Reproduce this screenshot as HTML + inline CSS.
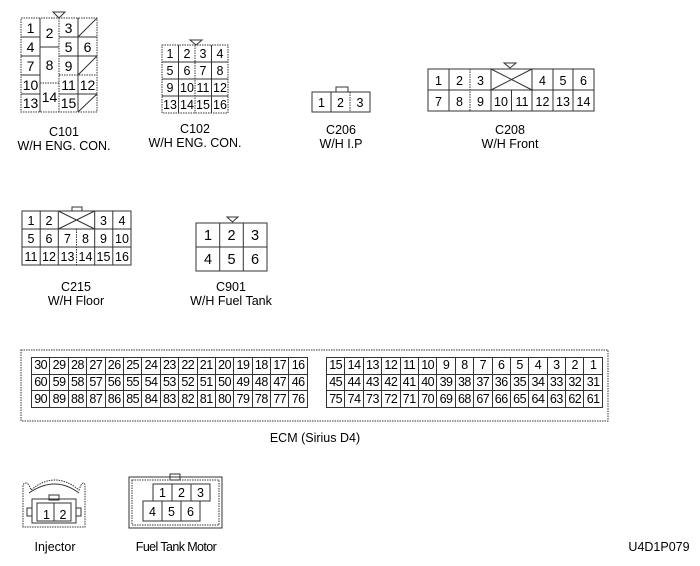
<!DOCTYPE html>
<html><head><meta charset="utf-8"><style>
body{margin:0;width:700px;height:566px;background:#fff;position:relative;overflow:hidden;font-family:"Liberation Sans",sans-serif;}
svg{position:absolute;left:0;top:0}
table.e{position:absolute;border-collapse:collapse;table-layout:fixed;font-size:12.5px;}
table.e td{width:17.4px;height:15.7px;border:1px solid #333;text-align:center;padding:0;line-height:15px;overflow:hidden;white-space:nowrap;letter-spacing:-0.5px}
</style></head><body>
<svg width="700" height="566" font-family="Liberation Sans, sans-serif" fill="none" stroke="#333" stroke-width="1">
<!-- C101 -->
<rect x="21" y="18" width="76" height="94" stroke-dasharray="1.5,1"/>
<g stroke="#333">
<line x1="40" y1="18" x2="40" y2="112"/><line x1="59" y1="18" x2="59" y2="112" stroke-dasharray="1.5,1"/><line x1="78" y1="18" x2="78" y2="112"/>
<line x1="21" y1="37" x2="40" y2="37"/><line x1="21" y1="56" x2="40" y2="56"/><line x1="21" y1="75" x2="40" y2="75"/><line x1="21" y1="94" x2="40" y2="94"/>
<line x1="40" y1="47" x2="59" y2="47"/><line x1="40" y1="83" x2="59" y2="83" stroke-dasharray="1.5,1"/>
<line x1="59" y1="37" x2="97" y2="37"/><line x1="59" y1="56" x2="97" y2="56"/><line x1="59" y1="75" x2="97" y2="75" stroke-dasharray="1.5,1"/><line x1="59" y1="94" x2="97" y2="94"/>
<line x1="78" y1="37" x2="97" y2="18"/><line x1="78" y1="75" x2="97" y2="56"/><line x1="78" y1="112" x2="97" y2="94"/>
</g>
<polygon points="53,12 65,12 59,18"/>
<!-- C102 -->
<rect x="162" y="45" width="66" height="68" stroke-dasharray="1.5,1"/>
<g><line x1="178.5" y1="45" x2="178.5" y2="113"/><line x1="195" y1="45" x2="195" y2="113" stroke-dasharray="1.5,1"/><line x1="211.5" y1="45" x2="211.5" y2="113"/>
<line x1="162" y1="62" x2="228" y2="62"/><line x1="162" y1="79" x2="228" y2="79"/><line x1="162" y1="96" x2="228" y2="96"/></g>
<polygon points="190,40 202,40 196,45"/>
<!-- C206 -->
<rect x="312" y="92" width="58" height="20"/>
<line x1="331" y1="92" x2="331" y2="112"/><line x1="350" y1="92" x2="350" y2="112" stroke-dasharray="1.5,1"/>
<rect x="336" y="87" width="12" height="5"/>
<!-- C208 -->
<rect x="428" y="69" width="166" height="42"/>
<line x1="428" y1="90" x2="594" y2="90"/>
<line x1="449" y1="69" x2="449" y2="111"/><line x1="470" y1="69" x2="470" y2="111" stroke-dasharray="1.5,1"/><line x1="491" y1="69" x2="491" y2="111"/>
<line x1="511.5" y1="90" x2="511.5" y2="111"/><line x1="532" y1="69" x2="532" y2="111"/><line x1="553" y1="69" x2="553" y2="111"/><line x1="573" y1="69" x2="573" y2="111"/>
<line x1="491" y1="69" x2="532" y2="90"/><line x1="491" y1="90" x2="532" y2="69"/>
<polygon points="504,63 516,63 510,68"/>
<!-- C215 -->
<rect x="22" y="211" width="109" height="54"/>
<line x1="22" y1="229" x2="131" y2="229"/><line x1="22" y1="247" x2="131" y2="247"/>
<line x1="40.2" y1="211" x2="40.2" y2="265"/><line x1="58.3" y1="211" x2="58.3" y2="265"/><line x1="76.5" y1="229" x2="76.5" y2="265" stroke-dasharray="1.5,1"/><line x1="94.7" y1="211" x2="94.7" y2="265"/><line x1="112.8" y1="211" x2="112.8" y2="265"/>
<line x1="58.3" y1="211" x2="94.7" y2="229"/><line x1="58.3" y1="229" x2="94.7" y2="211"/>
<rect x="72" y="207" width="10" height="4"/>
<!-- C901 -->
<rect x="196" y="223" width="71" height="48"/>
<line x1="196" y1="247" x2="267" y2="247"/><line x1="219.7" y1="223" x2="219.7" y2="271"/><line x1="243.3" y1="223" x2="243.3" y2="271"/>
<polygon points="227,217 238,217 232.5,222"/>
<!-- ECM -->
<rect x="21" y="350" width="587" height="71" stroke-dasharray="1.5,1"/>
<!-- Injector -->
<path d="M23,527 L23,485 Q25,481 29,485 L31,490 Q55,470 79,490 L81,485 Q84,481 85,485 L85,527 Z" stroke-dasharray="1.5,1"/>
<path d="M29,493 Q55,475 79,493"/>
<rect x="32" y="499" width="44" height="24"/>
<rect x="49" y="495" width="10" height="5"/>
<rect x="37" y="503" width="34" height="18"/>
<line x1="54" y1="503" x2="54" y2="521"/>
<rect x="27" y="508" width="5" height="8"/><rect x="76" y="508" width="5" height="8"/>
<!-- Fuel tank motor -->
<rect x="129" y="477" width="93" height="51"/>
<rect x="132" y="480" width="87" height="45" stroke-dasharray="1.5,1"/>
<rect x="170" y="474" width="10" height="6"/>
<rect x="153" y="484" width="57" height="17"/>
<line x1="172" y1="484" x2="172" y2="501"/><line x1="191" y1="484" x2="191" y2="501"/>
<rect x="143" y="501" width="57" height="20"/>
<line x1="162" y1="501" x2="162" y2="521"/><line x1="181" y1="501" x2="181" y2="521"/>
<g fill="#000" stroke="none" font-size="14" text-anchor="middle">
<text x="30.5" y="33">1</text><text x="49.5" y="38">2</text><text x="68.5" y="33">3</text>
<text x="30.5" y="52">4</text><text x="68.5" y="52">5</text><text x="87.5" y="52">6</text>
<text x="30.5" y="71">7</text><text x="49.5" y="70">8</text><text x="68.5" y="71">9</text>
<text x="30.5" y="90">10</text><text x="68.5" y="90">11</text><text x="87.5" y="90">12</text>
<text x="30.5" y="108">13</text><text x="49.5" y="102">14</text><text x="68.5" y="108">15</text>
</g>
<g fill="#000" stroke="none" font-size="12.5" text-anchor="middle">
<text x="170" y="58">1</text><text x="187" y="58">2</text><text x="203" y="58">3</text><text x="220" y="58">4</text>
<text x="170" y="75">5</text><text x="187" y="75">6</text><text x="203" y="75">7</text><text x="220" y="75">8</text>
<text x="170" y="92">9</text><text x="187" y="92">10</text><text x="203" y="92">11</text><text x="220" y="92">12</text>
<text x="170" y="109">13</text><text x="187" y="109">14</text><text x="203" y="109">15</text><text x="220" y="109">16</text>
<text x="321.5" y="107">1</text><text x="340.5" y="107">2</text><text x="360" y="107">3</text>
<text x="438.5" y="85">1</text><text x="459.5" y="85">2</text><text x="480.5" y="85">3</text><text x="542.5" y="85">4</text><text x="563" y="85">5</text><text x="583.5" y="85">6</text>
<text x="438.5" y="106">7</text><text x="459.5" y="106">8</text><text x="480.5" y="106">9</text><text x="501" y="106">10</text><text x="522" y="106">11</text><text x="542.5" y="106">12</text><text x="563" y="106">13</text><text x="583.5" y="106">14</text>
<text x="31" y="225">1</text><text x="49" y="225">2</text><text x="103.5" y="225">3</text><text x="122" y="225">4</text>
<text x="31" y="243">5</text><text x="49" y="243">6</text><text x="67.5" y="243">7</text><text x="85.5" y="243">8</text><text x="103.5" y="243">9</text><text x="122" y="243">10</text>
<text x="31" y="261">11</text><text x="49" y="261">12</text><text x="67.5" y="261">13</text><text x="85.5" y="261">14</text><text x="103.5" y="261">15</text><text x="122" y="261">16</text>
<text x="46.5" y="519">1</text><text x="63" y="519">2</text>
<text x="162.5" y="497">1</text><text x="181.5" y="497">2</text><text x="200.5" y="497">3</text>
<text x="152.5" y="516">4</text><text x="171.5" y="516">5</text><text x="190.5" y="516">6</text>
</g>
<g fill="#000" stroke="none" font-size="14.5" text-anchor="middle">
<text x="208" y="240">1</text><text x="231.5" y="240">2</text><text x="255" y="240">3</text>
<text x="208" y="264">4</text><text x="231.5" y="264">5</text><text x="255" y="264">6</text>
</g>
<g fill="#000" stroke="none" font-size="12.5" text-anchor="middle">
<text x="64" y="136">C101</text><text x="64" y="150">W/H ENG. CON.</text>
<text x="195" y="133">C102</text><text x="195" y="147">W/H ENG. CON.</text>
<text x="341" y="134">C206</text><text x="341" y="148">W/H I.P</text>
<text x="510" y="134">C208</text><text x="510" y="148">W/H Front</text>
<text x="76" y="291">C215</text><text x="76" y="305">W/H Floor</text>
<text x="231" y="291">C901</text><text x="231" y="305">W/H Fuel Tank</text>
<text x="315" y="442">ECM (Sirius D4)</text>
<text x="55" y="551">Injector</text>
<text x="176" y="551" letter-spacing="-0.6">Fuel Tank Motor</text>
<text x="659" y="551">U4D1P079</text>
</g>
</svg>
<table class="e" style="left:31px;top:357px">
<tr><td>30</td><td>29</td><td>28</td><td>27</td><td>26</td><td>25</td><td>24</td><td>23</td><td>22</td><td>21</td><td>20</td><td>19</td><td>18</td><td>17</td><td>16</td></tr>
<tr><td>60</td><td>59</td><td>58</td><td>57</td><td>56</td><td>55</td><td>54</td><td>53</td><td>52</td><td>51</td><td>50</td><td>49</td><td>48</td><td>47</td><td>46</td></tr>
<tr><td>90</td><td>89</td><td>88</td><td>87</td><td>86</td><td>85</td><td>84</td><td>83</td><td>82</td><td>81</td><td>80</td><td>79</td><td>78</td><td>77</td><td>76</td></tr>
</table>
<table class="e" style="left:326px;top:357px">
<tr><td>15</td><td>14</td><td>13</td><td>12</td><td>11</td><td>10</td><td>9</td><td>8</td><td>7</td><td>6</td><td>5</td><td>4</td><td>3</td><td>2</td><td>1</td></tr>
<tr><td>45</td><td>44</td><td>43</td><td>42</td><td>41</td><td>40</td><td>39</td><td>38</td><td>37</td><td>36</td><td>35</td><td>34</td><td>33</td><td>32</td><td>31</td></tr>
<tr><td>75</td><td>74</td><td>73</td><td>72</td><td>71</td><td>70</td><td>69</td><td>68</td><td>67</td><td>66</td><td>65</td><td>64</td><td>63</td><td>62</td><td>61</td></tr>
</table>
</body></html>
